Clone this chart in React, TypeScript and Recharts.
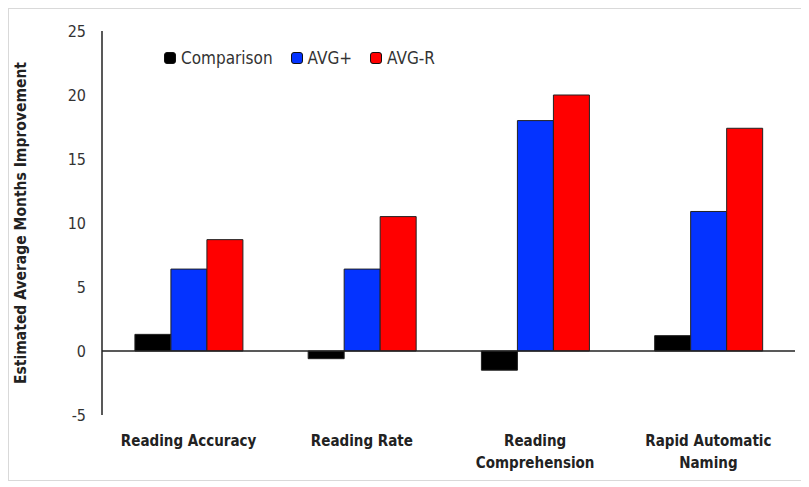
import React from "react";
import { BarChart, Bar, XAxis, YAxis, ReferenceLine } from "recharts";

const categories = ["Reading Accuracy", "Reading Rate", "Reading Comprehension", "Rapid Automatic Naming"];
const tickLines = [["Reading Accuracy"], ["Reading Rate"], ["Reading", "Comprehension"], ["Rapid Automatic", "Naming"]];
const comparison = [1.3, -0.6, -1.5, 1.2];
const avgPlus = [6.4, 6.4, 18.0, 10.9];
const avgR = [8.7, 10.5, 20.0, 17.4];
const yTicks = [-5, 0, 5, 10, 15, 20, 25];

const series = [
  { key: "comparison", name: "Comparison", color: "#000000" },
  { key: "avgPlus", name: "AVG+", color: "#0433ff" },
  { key: "avgR", name: "AVG-R", color: "#ff0000" },
];

const data = categories.map((c, i) => ({
  name: c,
  comparison: comparison[i],
  avgPlus: avgPlus[i],
  avgR: avgR[i],
}));

const FONT = "'Liberation Sans Narrow', 'DejaVu Sans Condensed', 'Open Sans', sans-serif";

function CategoryTick({ x, y, index }: any) {
  const lines = tickLines[index] || [];
  return (
    <text x={x} y={y} textAnchor="middle" fontFamily={FONT} fontSize={15} fontWeight="bold" fill="#222">
      {lines.map((l, i) => (
        <tspan key={i} x={x} dy={i === 0 ? 23 : 22}>
          {l}
        </tspan>
      ))}
    </text>
  );
}

function LegendBox() {
  return (
    <div
      style={{
        position: "absolute",
        top: 39,
        left: 155,
        display: "flex",
        alignItems: "center",
        fontFamily: FONT,
        fontSize: 17,
        color: "#333",
      }}
    >
      {series.map((s) => (
        <div key={s.key} style={{ display: "flex", alignItems: "center", marginRight: 18 }}>
          <span
            style={{
              display: "inline-block",
              width: 12,
              height: 12,
              background: s.color,
              border: "1px solid #111",
              borderRadius: 3,
              marginRight: 5,
              boxSizing: "border-box",
            }}
          />
          <span>{s.name}</span>
        </div>
      ))}
    </div>
  );
}

export default function App() {
  return (
    <div style={{ width: 793, height: 471, border: "1px solid #d9d9d9", background: "#fff", position: "relative" }}>
      <BarChart
        width={793}
        height={471}
        data={data}
        margin={{ top: 22, right: 7, bottom: 0, left: 33 }}
        barCategoryGap="19%"
        barGap={0}
      >
        <XAxis dataKey="name" axisLine={false} tickLine={false} height={65} interval={0} tick={<CategoryTick />} />
        <YAxis
          domain={[-5, 25]}
          ticks={yTicks}
          width={60}
          axisLine={{ stroke: "#222", strokeWidth: 1.5 }}
          tickLine={false}
          tickMargin={10}
          tick={{ fontFamily: FONT, fontSize: 16, fill: "#333" }}
          label={{
            value: "Estimated Average Months Improvement",
            angle: -90,
            position: "insideLeft",
            offset: -22,
            dy: 0,
            style: { textAnchor: "middle", fontFamily: FONT, fontSize: 15.5, fontWeight: "bold", fill: "#222" },
          }}
        />
        <ReferenceLine y={0} stroke="#222" strokeWidth={1.5} />
        {series.map((s) => (
          <Bar
            key={s.key}
            dataKey={s.key}
            name={s.name}
            fill={s.color}
            stroke="#222"
            strokeWidth={1}
            isAnimationActive={false}
          />
        ))}
      </BarChart>
      <LegendBox />
    </div>
  );
}
